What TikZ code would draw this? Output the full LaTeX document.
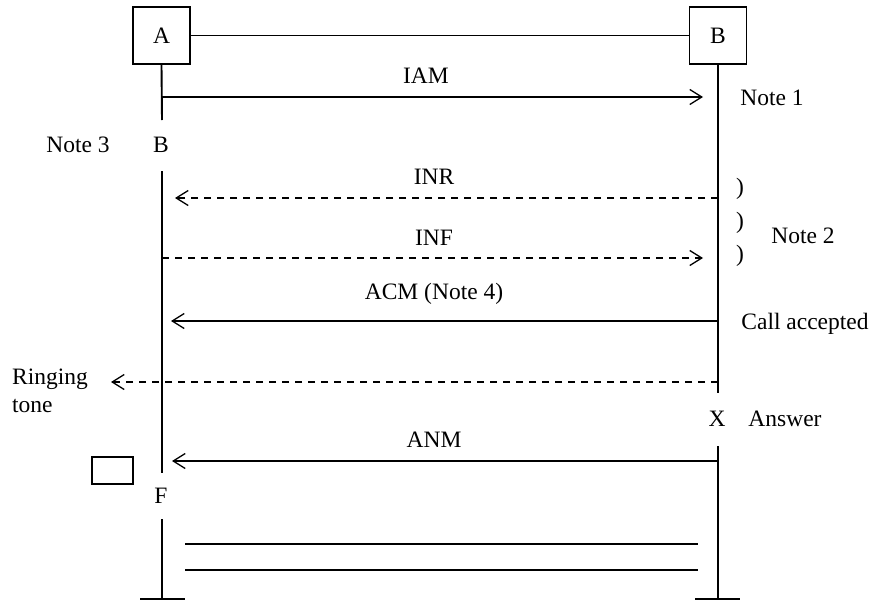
\documentclass[tikz,border=0pt]{standalone}
\usepackage{fontspec}
\setmainfont{Liberation Serif}
\usetikzlibrary{arrows.meta}
\begin{document}
\begin{tikzpicture}[x=1pt,y=-1pt,
  every node/.style={font=\fontsize{23.5}{26}\selectfont, inner sep=0pt},
  ln/.style={line width=1.9pt},
  box/.style={draw, line width=1.9pt, minimum width=57pt, minimum height=57pt},
  msg/.style={line width=1.6pt, -{Straight Barb[length=12pt,width=15pt,line width=1.3pt]}},
  dmsg/.style={msg, dash pattern=on 7pt off 6pt},
  lbl/.style={anchor=base},
  lft/.style={anchor=base west}]
\useasboundingbox (0,0) rectangle (873,600);
% entities
\node[box] (boxA) at (161.5,35.5) {A};
\node[box] (boxB) at (718,35.5) {B};
\draw[ln] (boxA.east) -- (boxB.west);
% lifeline A
\coordinate (a1) at (162,120);
\node[lbl] (nB) at (161,152) {B};
\coordinate (a2) at (162,171);
\coordinate (a3) at (162,473);
\node[lbl] (nF) at (161,503) {F};
\coordinate (a4) at (162,519);
\coordinate (a5) at (162,599);
\draw[ln] (boxA.south) -- (a1);
\draw[ln] (a2) -- (a3);
\draw[ln] (a4) -- (a5);
\coordinate (aL) at (140,599); \coordinate (aR) at (185,599);
\draw[ln] (aL) -- (aR);
% lifeline B
\coordinate (b1) at (718,393);
\node[lbl] (nX) at (717,426) {X};
\coordinate (b2) at (718,446);
\coordinate (b3) at (718,599);
\draw[ln] (boxB.south) -- (b1);
\draw[ln] (b2) -- (b3);
\coordinate (bL) at (695,599); \coordinate (bR) at (740,599);
\draw[ln] (bL) -- (bR);
% messages
\coordinate (iamS) at (162,97); \coordinate (iamE) at (703,97);
\draw[msg] (iamS) -- (iamE);
\node[lbl] (tIAM) at (426,83) {IAM};
\coordinate (inrS) at (718,198); \coordinate (inrE) at (175,198);
\draw[dmsg] (inrS) -- (inrE);
\node[lbl] (tINR) at (434,184) {INR};
\coordinate (infS) at (162,258); \coordinate (infE) at (703,258);
\draw[dmsg] (infS) -- (infE);
\node[lbl] (tINF) at (434,245) {INF};
\coordinate (acmS) at (718,321); \coordinate (acmE) at (171,321);
\draw[msg] (acmS) -- (acmE);
\node[lbl] (tACM) at (434,299) {ACM (Note 4)};
\coordinate (rtS) at (718,382); \coordinate (rtE) at (111,382);
\draw[dmsg] (rtS) -- (rtE);
\node[lft] (tRing) at (12,384) {Ringing};
\node[lft] (tTone) at (12,412) {tone};
\coordinate (anmS) at (718,461); \coordinate (anmE) at (172,461);
\draw[msg] (anmS) -- (anmE);
\node[lbl] (tANM) at (434,447) {ANM};
% notes
\node[lbl] (n1) at (772,105) {Note 1};
\node[lbl] (n3) at (78,152) {Note 3};
\node[lbl] (p1) at (740,194) {)};
\node[lbl] (p2) at (740,228) {)};
\node[lbl] (p3) at (740,261) {)};
\node[lbl] (n2) at (803,243) {Note 2};
\node[lbl] (ca) at (805,329) {Call accepted};
\node[lbl] (ans) at (785,426) {Answer};
% small box
\node[draw, line width=1.9pt, minimum width=41pt, minimum height=27pt] (sbox) at (112.5,470.5) {};
% bottom lines
\coordinate (l1a) at (185,544); \coordinate (l1b) at (698,544);
\coordinate (l2a) at (185,570); \coordinate (l2b) at (698,570);
\draw[ln] (l1a) -- (l1b);
\draw[ln] (l2a) -- (l2b);
\end{tikzpicture}
\end{document}
